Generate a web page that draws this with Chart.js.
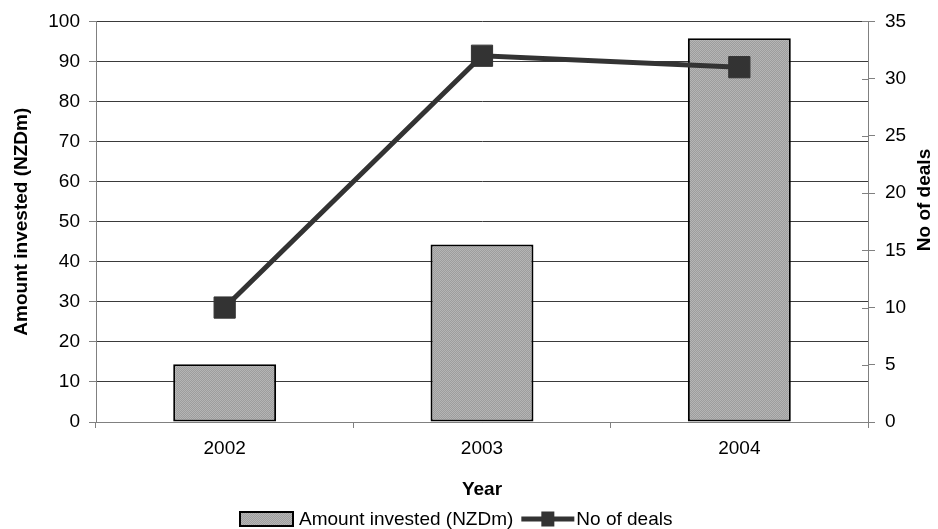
<!DOCTYPE html>
<html>
<head>
<meta charset="utf-8">
<script src="https://cdn.jsdelivr.net/npm/chart.js@4.4.1/dist/chart.umd.min.js"></script>
<style>
  html, body { margin: 0; padding: 0; background: #fff; }
  #wrap { width: 938px; height: 529px; }
</style>
</head>
<body>
<div id="wrap"><canvas id="myChart" width="938" height="529"></canvas></div>
<script>
// data
const years = ["2002", "2003", "2004"];
const amountInvested = [14.4, 44.3, 95.8];
const noOfDeals = [10, 32, 31];
const leftTicks = [0, 10, 20, 30, 40, 50, 60, 70, 80, 90, 100];
const rightTicks = [0, 5, 10, 15, 20, 25, 30, 35];

const FONT = "'Liberation Sans', Arial, sans-serif";
const TICK_SIZE = 19;

// grey stipple fill for the bars
function makeStipple() {
    const c = document.createElement("canvas");
    c.width = 2; c.height = 2;
    const g = c.getContext("2d");
    g.fillStyle = "#9d9d9d";
    g.fillRect(0, 0, 2, 2);
    g.fillStyle = "#b5b5b5";
    g.fillRect(0, 0, 1, 1);
    g.fillRect(1, 1, 1, 1);
    return g.createPattern(c, "repeat");
}
const stipple = makeStipple();

// inner halves of the right axis tick marks, right axis title, legend
const extras = {
    id: "extras",
    afterDraw(chart) {
        const ctx = chart.ctx;
        const s = chart.scales.y1;
        ctx.save();
        ctx.strokeStyle = "#808080";
        ctx.lineWidth = 1;
        rightTicks.forEach(function (v) {
            const y = Math.round(s.getPixelForValue(v)) + 0.5;
            ctx.beginPath();
            ctx.moveTo(s.left - 6, y);
            ctx.lineTo(s.left, y);
            ctx.stroke();
        });

        // "No of deals" reads bottom to top like the left title
        ctx.save();
        ctx.translate(925, 200);
        ctx.rotate(-Math.PI / 2);
        ctx.fillStyle = "#000";
        ctx.font = "bold " + TICK_SIZE + "px " + FONT;
        ctx.textAlign = "center";
        ctx.textBaseline = "middle";
        ctx.fillText("No of deals", 0, 0);
        ctx.restore();

        // legend
        const ds = chart.data.datasets;
        const ly = 519;
        let lx = 240;
        ctx.font = "19px " + FONT;
        ctx.textAlign = "left";
        ctx.textBaseline = "middle";

        ctx.fillStyle = stipple;
        ctx.fillRect(lx, ly - 7, 53, 14);
        ctx.strokeStyle = "#000";
        ctx.lineWidth = 2;
        ctx.strokeRect(lx, ly - 7, 53, 14);
        lx += 59;
        ctx.fillStyle = "#000";
        ctx.fillText(ds[0].label, lx, ly + 1);
        lx += ctx.measureText(ds[0].label).width + 8;

        ctx.strokeStyle = "#333";
        ctx.lineWidth = 5;
        ctx.beginPath();
        ctx.moveTo(lx, ly);
        ctx.lineTo(lx + 53, ly);
        ctx.stroke();
        ctx.fillStyle = "#333";
        ctx.fillRect(lx + 20, ly - 7.5, 13, 15);
        lx += 55;
        ctx.fillStyle = "#000";
        ctx.fillText(ds[1].label, lx, ly + 1);
        ctx.restore();
    }
};

new Chart("myChart", {
    data: {
        labels: years,
        datasets: [{
            type: "bar",
            label: "Amount invested (NZDm)",
            data: amountInvested,
            yAxisID: "y",
            backgroundColor: stipple,
            borderColor: "#000",
            borderWidth: 2,
            borderSkipped: false,
            barPercentage: 0.4,
            categoryPercentage: 1,
            order: 1
        }, {
            type: "line",
            label: "No of deals",
            data: noOfDeals,
            yAxisID: "y1",
            borderColor: "#333",
            borderWidth: 5,
            pointStyle: "rect",
            pointRadius: 15,
            pointBackgroundColor: "#333",
            pointBorderColor: "#333",
            pointBorderWidth: 1,
            tension: 0,
            order: 0
        }]
    },
    options: {
        responsive: false,
        animation: false,
        layout: { padding: { top: 20, left: 0, right: 0, bottom: 0 } },
        plugins: {
            tooltip: { enabled: false },
            legend: { display: false }
        },
        scales: {
            x: {
                offset: true,
                afterFit: function (s) { s.height = 107; },
                grid: {
                    offset: true,
                    drawOnChartArea: false,
                    tickLength: 6,
                    color: "#808080"
                },
                border: { color: "#808080" },
                ticks: { color: "#000", padding: 9, font: { family: FONT, size: TICK_SIZE } },
                title: {
                    display: true,
                    text: "Year",
                    color: "#000",
                    font: { family: FONT, size: TICK_SIZE, weight: "bold" },
                    padding: { top: 0, bottom: 28 }
                }
            },
            y: {
                position: "left",
                min: 0,
                max: 100,
                afterBuildTicks: function (s) { s.ticks = leftTicks.map(function (v) { return { value: v }; }); },
                afterFit: function (s) { s.width = 96; },
                grid: { color: "#3a3a3a", tickColor: "#808080", tickLength: 7 },
                border: { color: "#808080" },
                ticks: { color: "#000", padding: 9, font: { family: FONT, size: TICK_SIZE } },
                title: {
                    display: true,
                    text: "Amount invested (NZDm)",
                    color: "#000",
                    font: { family: FONT, size: TICK_SIZE, weight: "bold" },
                    padding: { top: 10, bottom: 0 }
                }
            },
            y1: {
                position: "right",
                min: 0,
                max: 35,
                afterBuildTicks: function (s) { s.ticks = rightTicks.map(function (v) { return { value: v }; }); },
                afterFit: function (s) { s.width = 70; },
                grid: { drawOnChartArea: false, color: "#808080", tickLength: 7 },
                border: { color: "#808080" },
                ticks: { color: "#000", padding: 10, font: { family: FONT, size: TICK_SIZE } }
            }
        }
    },
    plugins: [extras]
});
</script>
</body>
</html>
